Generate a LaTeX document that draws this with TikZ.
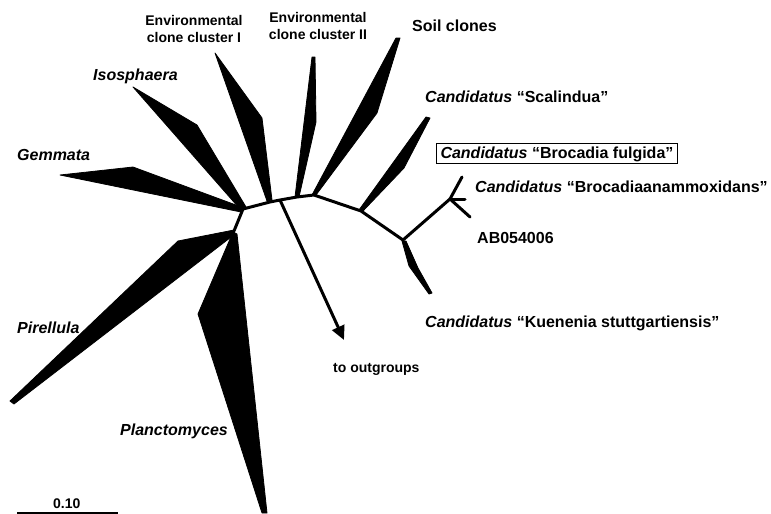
\documentclass[tikz,border=0pt]{standalone}
\usepackage{fontspec}
\setmainfont{Liberation Sans}
\usetikzlibrary{arrows.meta}
\tikzset{
  lab/.style={font=\fontsize{16}{18}\selectfont\bfseries, inner sep=0pt, anchor=base west},
  smalllab/.style={font=\fontsize{14}{17}\selectfont\bfseries, inner sep=0pt, anchor=base},
  branch/.style={line width=3pt, line join=round, line cap=round},
  wedge/.style={fill=black, draw=black, line width=0.8pt, line join=round},
}
\begin{document}
\begin{tikzpicture}[x=1pt, y=-1pt]
\useasboundingbox (0,0) rectangle (771,514);
% junctions
\coordinate (A) at (243,209);
\coordinate (B) at (270,202);
\coordinate (C) at (280,200);
\coordinate (D) at (297,197);
\coordinate (E) at (314,195);
\coordinate (G) at (361,211);
\coordinate (H) at (403,240);
\coordinate (I) at (450,199);
\coordinate (F) at (234,231);
\coordinate (I1) at (462,177);
\coordinate (I2) at (465,199);
\coordinate (I3) at (470,217);
\coordinate (OG) at (344,340);
% wedges
\fill[wedge] (60,175) -- (133,167) -- (244,208) -- (241,212) -- cycle; % Gemmata
\fill[wedge] (133,87) -- (197,125) -- (246,207) -- (240,209) -- cycle; % Isosphaera
\fill[wedge] (215,53) -- (262,118) -- (272,200) -- (267,201) -- cycle; % Env I
\fill[wedge] (312,57) -- (315,57) -- (316,122) -- (299,197) -- (295,197) -- cycle; % Env II
\fill[wedge] (396,38) -- (400,38) -- (377,113) -- (316,195) -- (312,195) -- cycle; % Soil
\fill[wedge] (426,117) -- (430,118) -- (404,168) -- (363,211) -- (359,210) -- cycle; % Scalindua
\fill[wedge] (234,230) -- (178,241) -- (10,401) -- (14,404) -- (235,234) -- cycle; % Pirellula
\fill[wedge] (233,232) -- (198,314) -- (262,513) -- (267,513) -- (237,234) -- cycle; % Planctomyces
\fill[wedge] (402,241) -- (406,241) -- (418,268) -- (432,293) -- (429,294) -- (409,266) -- cycle; % Kuenenia
% branches
\draw[branch] (F) -- (A) -- (B) -- (C) -- (D) -- (E) -- (G) -- (H) -- (I);
\draw[branch] (I) -- (I1);
\draw[branch] (I) -- (I2);
\draw[branch] (I) -- (I3);
\draw[branch, line cap=butt, -{Triangle[length=14pt,width=13pt]}] (C) -- (OG);
% labels
\node[smalllab] (env1a) at (194,25) {Environmental};
\node[smalllab] (env1b) at (194,42) {clone cluster I};
\node[smalllab] (env2a) at (318,22) {Environmental};
\node[smalllab] (env2b) at (318,39) {clone cluster II};
\node[lab] (soil) at (412,31) {Soil clones};
\node[lab] (iso) at (93,80) {\itshape Isosphaera};
\node[lab] (gem) at (17,160) {\itshape Gemmata};
\node[lab] (scal) at (425,102) {{\itshape Candidatus} “Scalindua”};
\node[lab, draw, line width=1pt, inner xsep=4pt, inner ysep=2.5pt] (fulg) at (436,158) {{\itshape Candidatus} “Brocadia fulgida”};
\node[lab] (anam) at (475,192) {{\itshape Candidatus} “Brocadiaanammoxidans”};
\node[lab] (ab) at (477,243) {AB054006};
\node[lab] (kuen) at (425,327) {{\itshape Candidatus} “Kuenenia stuttgartiensis”};
\node[lab, font=\fontsize{14}{17}\selectfont\bfseries] (out) at (333,372) {to outgroups};
\node[lab] (pir) at (17,333) {\itshape Pirellula};
\node[lab] (plan) at (120,435) {\itshape Planctomyces};
\node[lab, font=\fontsize{14}{17}\selectfont\bfseries] (scale) at (53,508) {0.10};
\coordinate (S1) at (17,513);
\coordinate (S2) at (118,513);
\draw[line width=1.5pt] (S1) -- (S2);
\end{tikzpicture}
\end{document}
